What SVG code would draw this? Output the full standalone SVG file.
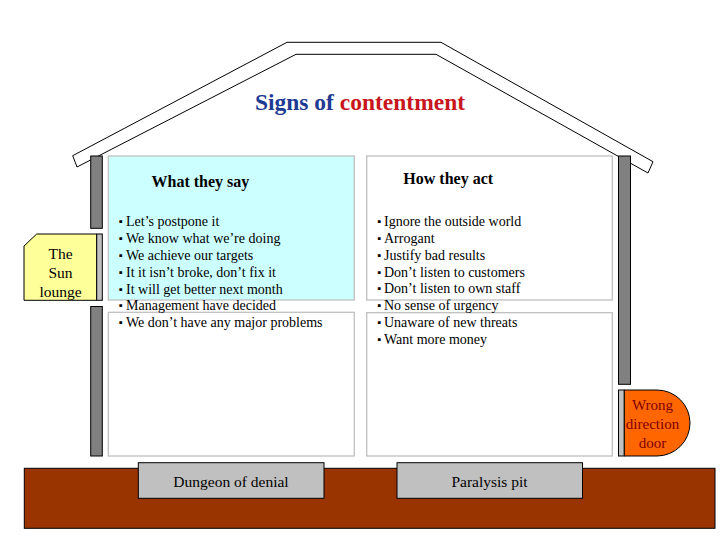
<svg xmlns="http://www.w3.org/2000/svg" width="720" height="540" viewBox="0 0 720 540">
<style>
  text { font-family: "Liberation Serif", "Times New Roman", serif; fill: #000; }
  .wall { fill: #808080; stroke: #000; stroke-width: 1; }
  .strip { fill: #C0C0C0; stroke: #000; stroke-width: 1; }
  .box { stroke: #C0C0C0; stroke-width: 1.3; }
  .head { font-size: 16px; font-weight: bold; }
  .item { font-size: 14px; }
  .bul { font-size: 11px; }
  .lbl { font-size: 15.5px; text-anchor: middle; }
  .door { font-size: 15px; text-anchor: middle; fill: #800000; }
</style>
<rect width="720" height="540" fill="#fff"/>

<g id="roof">
  <polygon points="72.7,155.7 287,42.3 441,42.3 653,161.7 648,173 436,54.3 296,54.3 77,167" fill="#fff" stroke="#000" stroke-width="1"/>
</g>

<g id="title">
  <text x="360" y="110" text-anchor="middle" font-size="23.5" font-weight="bold"><tspan fill="#1F3A93">Signs of </tspan><tspan fill="#C8161D">contentment</tspan></text>
</g>

<g id="ground">
  <rect x="24.3" y="468.3" width="690.7" height="60" fill="#993300" stroke="#000" stroke-width="1"/>
</g>

<g id="walls">
  <rect class="wall" x="90.7" y="156" width="11.6" height="72.3"/>
  <rect class="wall" x="90.7" y="306.5" width="11.6" height="149.5"/>
  <rect class="wall" x="618.5" y="156" width="12" height="228.3"/>
</g>

<g id="sun-lounge">
  <polygon points="36.7,234 96.7,234 96.7,300.3 24,300.3 24,246" fill="#FFFF99" stroke="#000" stroke-width="1"/>
  <rect class="strip" x="96.7" y="234" width="5.6" height="66.3"/>
  <text class="lbl" x="60.5" y="259" font-size="15">The</text>
  <text class="lbl" x="60.5" y="278" font-size="15">Sun</text>
  <text class="lbl" x="60.5" y="297" font-size="15">lounge</text>
</g>

<g id="what-they-say">
  <rect class="box" x="108.3" y="156" width="246" height="144" fill="#CCFFFF"/>
  <rect class="box" x="108.3" y="312.3" width="246" height="143.7" fill="#fff"/>
  <text class="head" x="151.5" y="187.3">What they say</text>
  <g class="item">
    <text x="119" y="225"><tspan class="bul">▪</tspan><tspan x="126" y="226">Let’s postpone it</tspan></text>
    <text x="119" y="242"><tspan class="bul">▪</tspan><tspan x="126" y="243">We know what we’re doing</tspan></text>
    <text x="119" y="259"><tspan class="bul">▪</tspan><tspan x="126" y="260">We achieve our targets</tspan></text>
    <text x="119" y="276"><tspan class="bul">▪</tspan><tspan x="126" y="277">It it isn’t broke, don’t fix it</tspan></text>
    <text x="119" y="292.7"><tspan class="bul">▪</tspan><tspan x="126" y="293.7">It will get better next month</tspan></text>
    <text x="119" y="309.3"><tspan class="bul">▪</tspan><tspan x="126" y="310.3">Management have decided</tspan></text>
    <text x="119" y="326"><tspan class="bul">▪</tspan><tspan x="126" y="327">We don’t have any major problems</tspan></text>
  </g>
</g>

<g id="how-they-act">
  <rect class="box" x="366.7" y="156" width="245.6" height="144" fill="#fff"/>
  <rect class="box" x="366.7" y="312.7" width="245.6" height="143.3" fill="#fff"/>
  <text class="head" x="403.3" y="184.3">How they act</text>
  <g class="item">
    <text x="377.5" y="225"><tspan class="bul">▪</tspan><tspan x="384" y="226">Ignore the outside world</tspan></text>
    <text x="377.5" y="241.7"><tspan class="bul">▪</tspan><tspan x="384" y="242.7">Arrogant</tspan></text>
    <text x="377.5" y="259"><tspan class="bul">▪</tspan><tspan x="384" y="260">Justify bad results</tspan></text>
    <text x="377.5" y="276"><tspan class="bul">▪</tspan><tspan x="384" y="277">Don’t listen to customers</tspan></text>
    <text x="377.5" y="291.7"><tspan class="bul">▪</tspan><tspan x="384" y="292.7">Don’t listen to own staff</tspan></text>
    <text x="377.5" y="309.3"><tspan class="bul">▪</tspan><tspan x="384" y="310.3">No sense of urgency</tspan></text>
    <text x="377.5" y="326"><tspan class="bul">▪</tspan><tspan x="384" y="327">Unaware of new threats</tspan></text>
    <text x="377.5" y="343.3"><tspan class="bul">▪</tspan><tspan x="384" y="344.3">Want more money</tspan></text>
  </g>
</g>

<g id="door">
  <rect class="strip" x="618.5" y="390" width="5.8" height="66"/>
  <path d="M624.3,390 H657 A33,33 0 0 1 657,456 H624.3 Z" fill="#FF6600" stroke="#000" stroke-width="1"/>
  <text class="door" x="652.5" y="410">Wrong</text>
  <text class="door" x="652.5" y="429">direction</text>
  <text class="door" x="652.5" y="448">door</text>
</g>

<g id="dungeon">
  <rect class="strip" x="138.3" y="462.7" width="185.7" height="35.6"/>
  <text class="lbl" x="231" y="487">Dungeon of denial</text>
</g>

<g id="paralysis">
  <rect class="strip" x="397" y="462.7" width="185.5" height="35.6"/>
  <text class="lbl" x="489.5" y="487">Paralysis pit</text>
</g>

<g id="connectors"></g>
</svg>
